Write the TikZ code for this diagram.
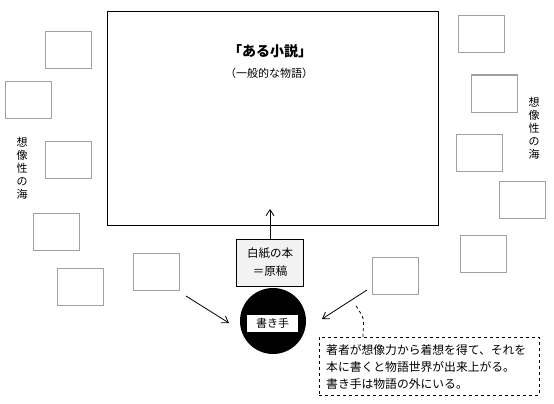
\documentclass[tikz,border=0pt]{standalone}
\usepackage{fontspec}
\setmainfont{Noto Sans CJK JP}
\usetikzlibrary{arrows.meta}
\definecolor{boxgray}{RGB}{160,160,160}
\definecolor{paper}{RGB}{242,242,242}
\begin{document}
\begin{tikzpicture}[x=1pt,y=-1pt,
  idea/.style={draw=boxgray,line width=1pt,minimum width=46pt,minimum height=37pt,inner sep=0pt},
  arr/.style={-{Straight Barb[length=6pt,width=8pt]},line width=0.8pt},
  vtext/.style={font=\fontsize{11pt}{13pt}\selectfont,align=center,inner sep=0pt}]
\useasboundingbox[fill=white] (0,0) rectangle (554,404);
% main box
\node[draw,line width=1pt,minimum width=331pt,minimum height=213pt,inner sep=0pt] (main) at (272.5,118.5) {};
\node[font=\bfseries\fontsize{14pt}{16pt}\selectfont,inner sep=0pt] (title) at (270,51) {「ある小説」};
\node[font=\fontsize{11pt}{13pt}\selectfont,inner sep=0pt] (sub) at (269,73) {（一般的な物語）};
% idea boxes
\node[idea] (b1) at (68.5,50.5) {};
\node[idea] (b2) at (28.5,99.5) {};
\node[idea] (b3) at (68.5,160) {};
\node[idea] (b4) at (56.5,231.5) {};
\node[idea] (b5) at (80,286.5) {};
\node[idea] (b6) at (156,271.5) {};
\node[idea] (b7) at (481.5,34.5) {};
\node[idea] (b8) at (494.5,93.5) {};
\node[idea] (b9) at (479.5,152.5) {};
\node[idea] (b10) at (522,199.5) {};
\node[idea] (b11) at (483.5,253.5) {};
\node[idea] (b12) at (395,275.5) {};
% sea labels
\node[vtext] (seaL) at (22,168) {想\\像\\性\\の\\海};
\node[vtext] (seaR) at (534,128) {想\\像\\性\\の\\海};
% blank book
\node[draw,fill=paper,line width=1pt,minimum width=67pt,minimum height=47pt,inner sep=0pt,align=center,font=\fontsize{11.5pt}{18pt}\selectfont] (blank) at (270,262.5) {白紙の本\\＝原稿};
\coordinate (tip) at (270,209);
\draw[arr] (blank.north) -- (tip);
% writer
\node[circle,fill=black,minimum size=66pt,inner sep=0pt] (writer) at (273,321) {};
\node[fill=white,minimum width=51pt,minimum height=17pt,inner sep=0pt,font=\fontsize{11pt}{13pt}\selectfont] (wlabel) at (272.5,323.5) {書き手};
% arrows from ideas
\coordinate (aL) at (186,296);
\coordinate (aLt) at (229,323);
\coordinate (aR) at (367,290);
\coordinate (aRt) at (322,319);
\draw[arr] (aL) -- (aLt);
\draw[arr] (aR) -- (aRt);
% callout
\node[draw,dashed,line width=0.8pt,minimum width=220pt,minimum height=58pt,inner sep=0pt] (note) at (429,366) {};
\node[anchor=west,align=left,inner sep=0pt,font=\fontsize{11.8pt}{17pt}\selectfont] (notetext) at (326,367) {著者が想像力から着想を得て、それを\\本に書くと物語世界が出来上がる。\\書き手は物語の外にいる。};
\coordinate (c1) at (363,337);
\coordinate (c2) at (355,304);
\draw[dashed,line width=0.8pt] (c1) -- (363.5,322) .. controls (364,316) and (358,310) .. (c2);
\end{tikzpicture}
\end{document}
